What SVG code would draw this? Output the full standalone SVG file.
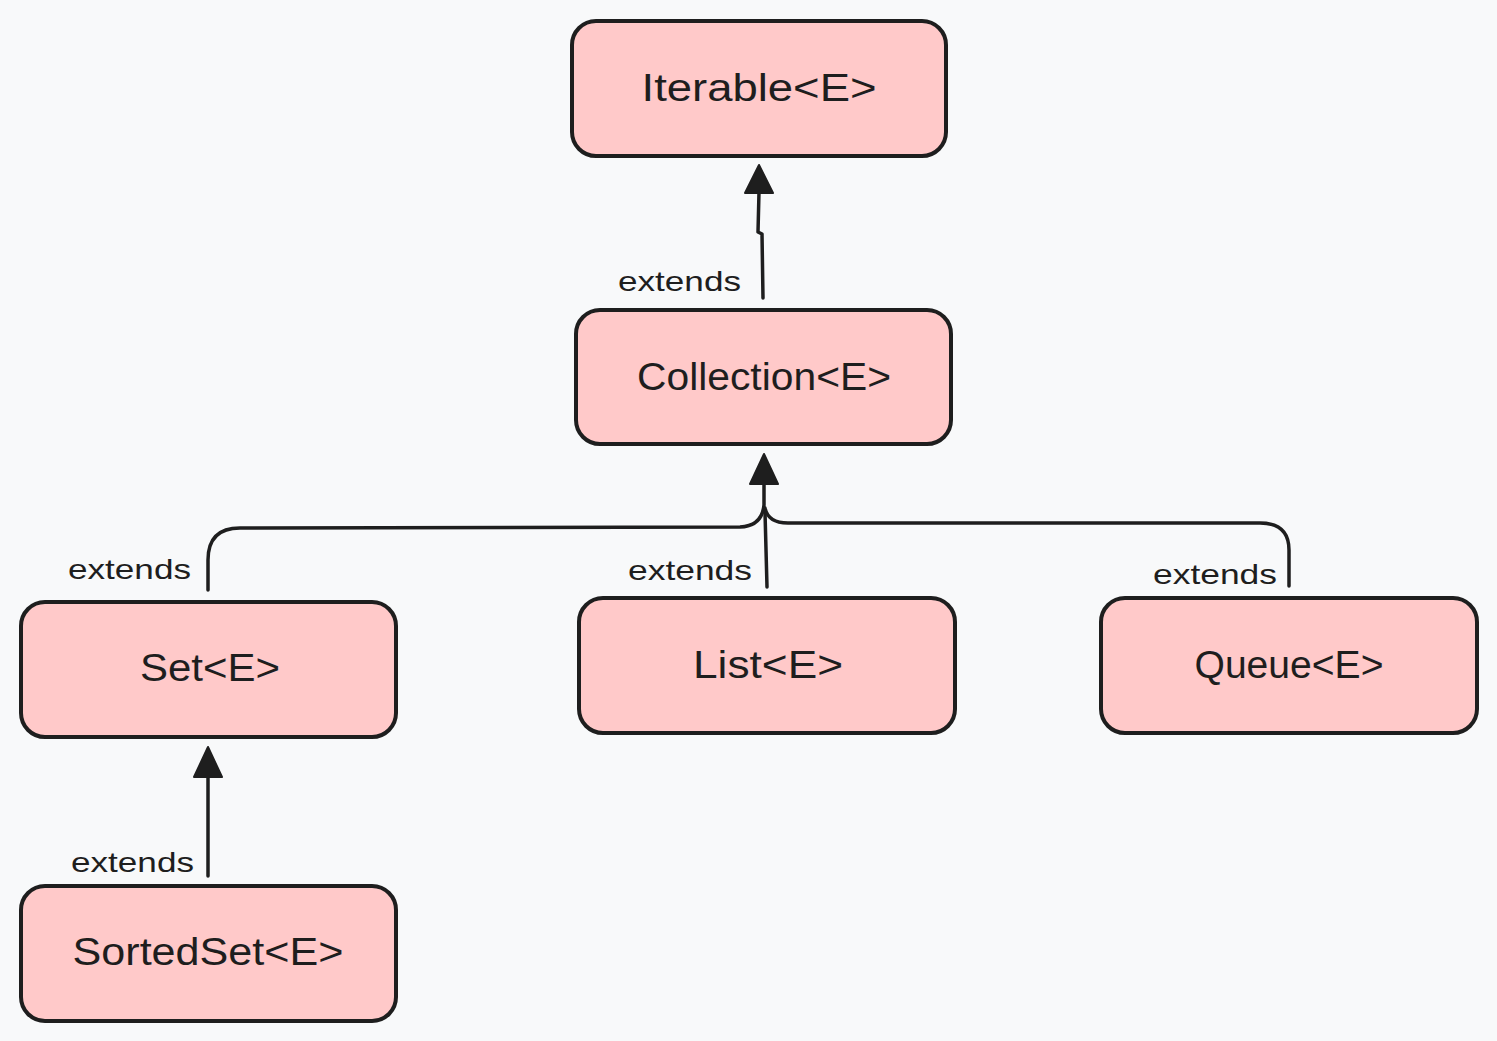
<svg xmlns="http://www.w3.org/2000/svg" width="1497" height="1041" viewBox="0 0 1497 1041">
<style>
.box{fill:#ffc9c9;stroke:#1e1e1e;stroke-width:4;stroke-linejoin:round}
.lbl{font-family:"Liberation Sans","Noto Sans",sans-serif;font-size:38px;fill:#1e1e1e;text-anchor:middle;dominant-baseline:central}
.ext{font-family:"Liberation Sans","Noto Sans",sans-serif;font-size:28px;fill:#1e1e1e}
.edge{fill:none;stroke:#1e1e1e;stroke-width:3.5;stroke-linecap:round;stroke-linejoin:round}
.head{fill:#1e1e1e;stroke:#1e1e1e;stroke-width:2;stroke-linejoin:round}
</style>
<rect x="0" y="0" width="1497" height="1041" fill="#f8f9fa"/>
<g id="connectors">
<g id="e-collection-iterable">
<path class="edge" d="M763 298 L762 234 L758 232 L759 192"/>
<path class="head" d="M759 165 L773 193 L745 193 Z"/>
<text class="ext" x="618" y="291" textLength="123" lengthAdjust="spacingAndGlyphs">extends</text>
</g>
<g id="e-set-collection">
<path class="edge" d="M208 590 L208 560 Q208 528 240 528 L740 527 Q762 526 764 505 L764 482"/>
<path class="head" d="M764 454 L778 484 L750 484 Z"/>
<text class="ext" x="68" y="579" textLength="123" lengthAdjust="spacingAndGlyphs">extends</text>
</g>
<g id="e-list-collection">
<path class="edge" d="M767 587 L765 512"/>
<text class="ext" x="628" y="580" textLength="124" lengthAdjust="spacingAndGlyphs">extends</text>
</g>
<g id="e-queue-collection">
<path class="edge" d="M1289 586 L1289 550 Q1289 523 1260 523 L788 523 Q768 523 765 508"/>
<text class="ext" x="1153" y="584" textLength="124" lengthAdjust="spacingAndGlyphs">extends</text>
</g>
<g id="e-sortedset-set">
<path class="edge" d="M208 876 L208 776"/>
<path class="head" d="M208 747 L222 777 L194 777 Z"/>
<text class="ext" x="71" y="872" textLength="123" lengthAdjust="spacingAndGlyphs">extends</text>
</g>
</g>
<g id="iterable">
<rect class="box" x="572" y="21" width="374" height="135" rx="24"/>
<text class="lbl" x="759" y="88" textLength="235" lengthAdjust="spacingAndGlyphs">Iterable&lt;E&gt;</text>
</g>
<g id="collection">
<rect class="box" x="576" y="310" width="375" height="134" rx="24"/>
<text class="lbl" x="764" y="377" textLength="254" lengthAdjust="spacingAndGlyphs">Collection&lt;E&gt;</text>
</g>
<g id="set">
<rect class="box" x="21" y="602" width="375" height="135" rx="24"/>
<text class="lbl" x="210" y="668" textLength="140" lengthAdjust="spacingAndGlyphs">Set&lt;E&gt;</text>
</g>
<g id="list">
<rect class="box" x="579" y="598" width="376" height="135" rx="24"/>
<text class="lbl" x="768" y="665" textLength="150" lengthAdjust="spacingAndGlyphs">List&lt;E&gt;</text>
</g>
<g id="queue">
<rect class="box" x="1101" y="598" width="376" height="135" rx="24"/>
<text class="lbl" x="1289" y="665" textLength="189" lengthAdjust="spacingAndGlyphs">Queue&lt;E&gt;</text>
</g>
<g id="sortedset">
<rect class="box" x="21" y="886" width="375" height="135" rx="24"/>
<text class="lbl" x="208" y="952" textLength="271" lengthAdjust="spacingAndGlyphs">SortedSet&lt;E&gt;</text>
</g>
</svg>
